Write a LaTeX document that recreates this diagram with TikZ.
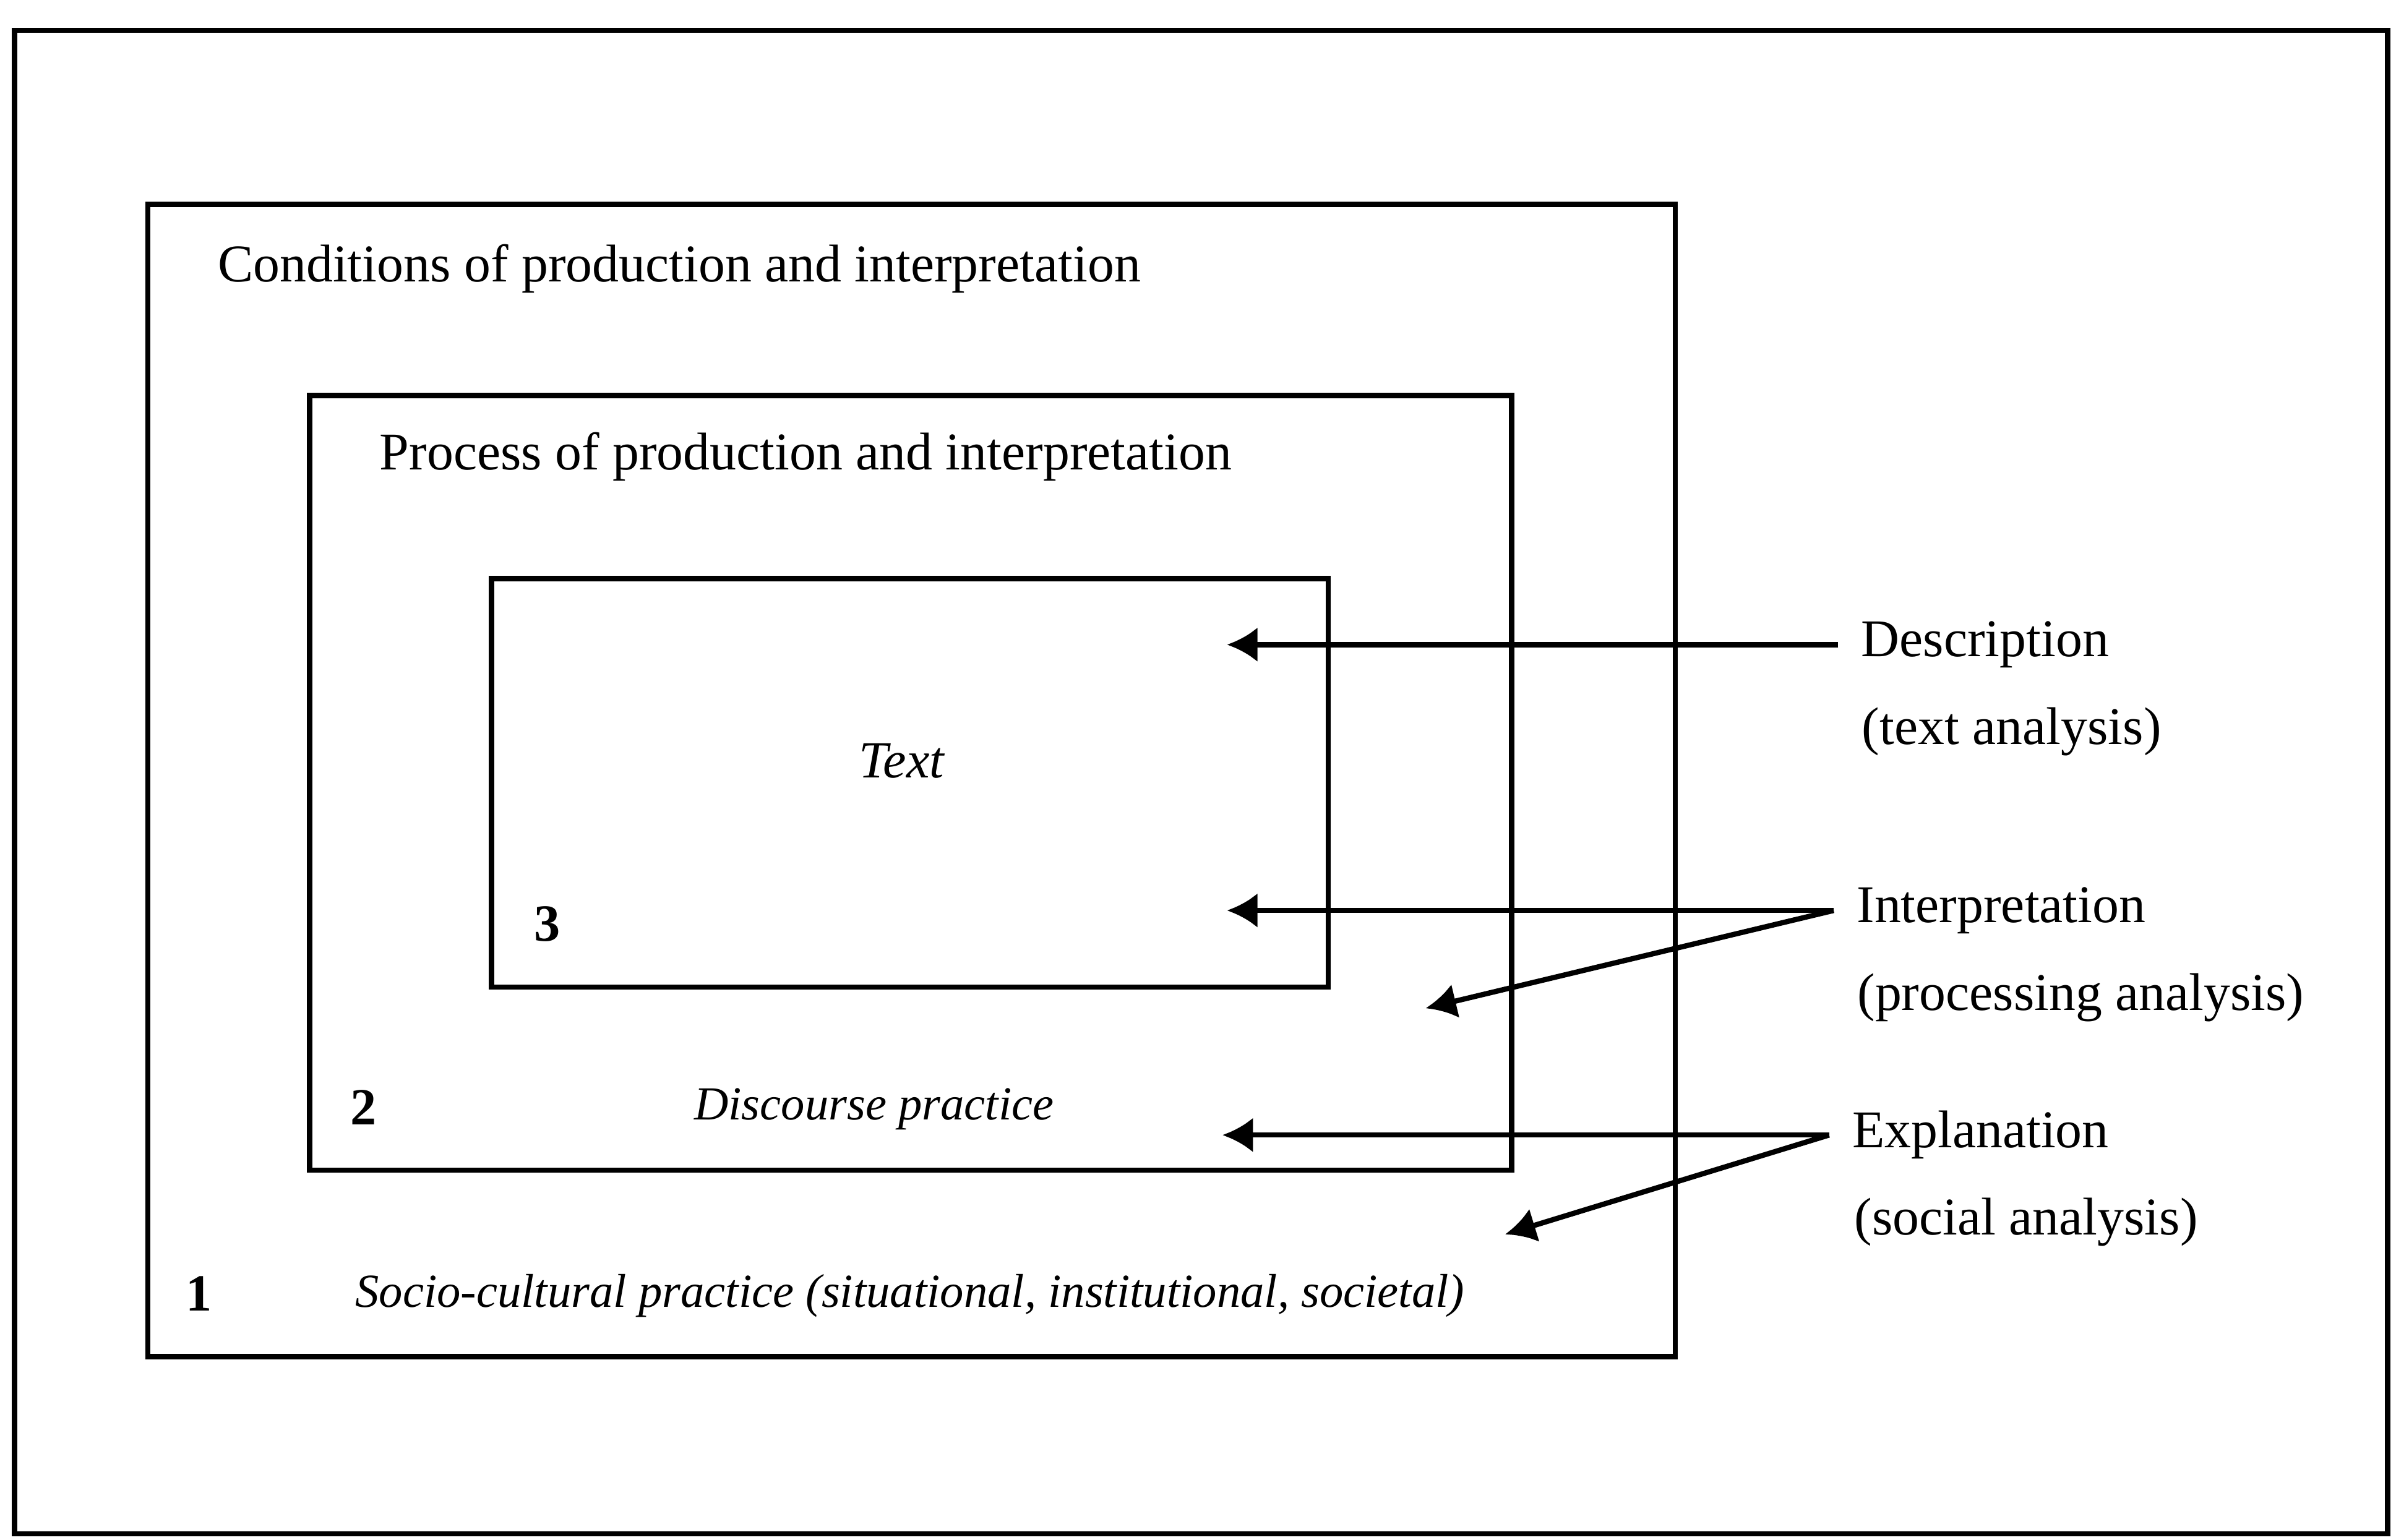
\documentclass[tikz,border=0pt]{standalone}
\usepackage{fontspec}
\setmainfont{Liberation Serif}
\usetikzlibrary{arrows.meta, positioning}
\tikzstyle{frame} = [rectangle, draw=black, line width=1.2pt, inner sep=0pt]
\tikzstyle{txt} = [inner sep=0pt, anchor=west, font=\fontsize{12.2}{14}\selectfont]
\tikzstyle{slanted} = [inner sep=0pt, font=\fontsize{10.9}{13}\selectfont\itshape]
\tikzstyle{num} = [inner sep=0pt, font=\fontsize{12}{14}\selectfont\bfseries]
\tikzstyle{side} = [txt, inner xsep=0.18cm]
\tikzstyle{arrow} = [line width=1.2pt, -{Latex[length=7pt,width=8pt]}]

\begin{document}
\begin{tikzpicture}[x=0.01235cm, y=-0.01235cm]
\useasboundingbox (0,0) rectangle (1568,1008);

% nested boxes
\node (page) [frame, minimum width=19.17cm, minimum height=12.15cm] at (786,512) {};
\node (conditions) [frame, minimum width=12.34cm, minimum height=9.31cm] at (596.5,511) {};
\node (process) [frame, minimum width=9.71cm, minimum height=6.26cm] at (596,512.5) {};
\node (textbox) [frame, minimum width=6.76cm, minimum height=3.30cm] at (595.5,512.5) {};

\node (cond) [txt] at (142,176) {Conditions of production and interpretation};
\node (proc) [txt] at (248,299) {Process of production and interpretation};
\node (textlbl) [slanted, font=\fontsize{12}{14}\selectfont\itshape] at (590,498) {Text};
\node (num3) [num] at (358,605) {3};
\node (num2) [num] at (238,725) {2};
\node (disc) [slanted] at (572,726) {Discourse practice};
\node (num1) [num] at (130,847) {1};
\node (socio) [slanted, anchor=west] at (232,848) {Socio-cultural practice (situational, institutional, societal)};

% levels of analysis
\node (desc) [side] at (1203,422) {Description};
\node (desc2) [txt] at (1218,479) {(text analysis)};
\node (interp) [side] at (1200,596) {Interpretation};
\node (interp2) [txt] at (1215,653) {(processing analysis)};
\node (expl) [side] at (1197,743) {Explanation};
\node (expl2) [txt] at (1213,800) {(social analysis)};

\coordinate (desctip) at (803,422);
\coordinate (interptip) at (803,596);
\coordinate (interpdiag) at (933,660);
\coordinate (expltip) at (800,743);
\coordinate (expldiag) at (985,808);

\draw [arrow] (desc.west) -- (desctip);
\draw [arrow] (interp.west) -- (interptip);
\draw [arrow] (interp.west) -- (interpdiag);
\draw [arrow] (expl.west) -- (expltip);
\draw [arrow] (expl.west) -- (expldiag);

\end{tikzpicture}
\end{document}
